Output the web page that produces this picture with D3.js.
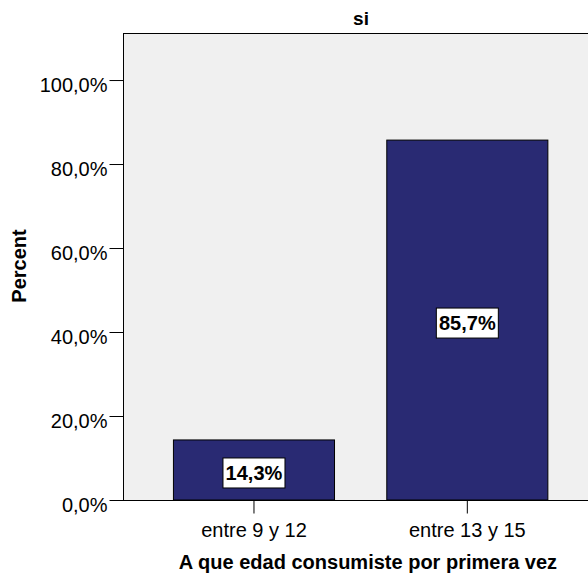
<!DOCTYPE html>
<html lang="es">
<head>
<meta charset="UTF-8">
<title>si</title>
<script src="https://d3js.org/d3.v7.min.js"></script>
<style>
  body { margin: 0; background: #fff; }
  svg text { font-family: "Liberation Sans", Arial, sans-serif; }
</style>
</head>
<body>
<div id="chart"></div>
<script>
// datos
const categorias = ["entre 9 y 12", "entre 13 y 15"];
const porcentajes = [14.3, 85.7];
const ticksY = [0, 20, 40, 60, 80, 100];

const width = 588, height = 575;
const mLeft = 124, mTop = 33, mRight = 588, mBottom = 500;

const svg = d3.select("#chart").append("svg")
    .attr("width", width)
    .attr("height", height);

svg.append("rect").attr("width", width).attr("height", height).attr("fill", "#fff");

// fondo gris del area del grafico
svg.append("rect")
    .attr("x", mLeft).attr("y", mTop)
    .attr("width", mRight - mLeft + 2).attr("height", mBottom - mTop)
    .attr("fill", "#f0f0f0");

const y = d3.scaleLinear().domain([0, 111.2]).range([mBottom, mTop]);
const x = d3.scaleBand().domain(categorias)
    .range([147.3, 574])
    .paddingInner(0.245)
    .paddingOuter(0.1225);

const fmt = v => d3.format(".1f")(v).replace(".", ",") + "%";

// barras
svg.selectAll("rect.bar")
    .data(porcentajes)
    .enter().append("rect")
    .attr("class", "bar")
    .attr("x", (d, i) => x(categorias[i]))
    .attr("y", d => y(d))
    .attr("width", x.bandwidth())
    .attr("height", d => mBottom - y(d))
    .attr("fill", "#292a73")
    .attr("stroke", "#000")
    .attr("stroke-width", 1);

// etiquetas de las barras
const etiquetas = svg.selectAll("g.lab")
    .data(porcentajes)
    .enter().append("g")
    .attr("class", "lab")
    .attr("transform", (d, i) => `translate(${x(categorias[i]) + x.bandwidth() / 2},${(y(d) + mBottom) / 2 + 3})`);

etiquetas.append("rect")
    .attr("x", -31).attr("y", -15)
    .attr("width", 62).attr("height", 30)
    .attr("fill", "#fff")
    .attr("stroke", "#000")
    .attr("stroke-width", 1);

etiquetas.append("text")
    .attr("text-anchor", "middle")
    .attr("dy", "0.36em")
    .style("font-size", "20px")
    .style("font-weight", "bold")
    .text(d => fmt(d));

// borde superior
svg.append("line")
    .attr("x1", mLeft).attr("x2", mRight)
    .attr("y1", mTop + 0.5).attr("y2", mTop + 0.5)
    .attr("stroke", "#000");

// eje Y
const ejeY = svg.append("g")
    .attr("transform", `translate(${mLeft - 0.5},0)`)
    .call(d3.axisLeft(y).tickValues(ticksY).tickSize(14).tickPadding(2).tickFormat(fmt));
ejeY.select(".domain").attr("d", `M0,${mTop}V${mBottom}`).attr("stroke", "#000");
ejeY.selectAll(".tick line").attr("stroke", "#000");
ejeY.selectAll(".tick text")
    .attr("dy", "0.58em")
    .attr("fill", "#000")
    .style("font-size", "20px")
    .style("font-family", "'Liberation Sans', Arial, sans-serif");

// eje X
const ejeX = svg.append("g")
    .attr("transform", `translate(0,${mBottom + 0.5})`)
    .call(d3.axisBottom(x).tickSize(13).tickPadding(0));
ejeX.select(".domain").attr("d", `M${mLeft - 1},0H${mRight}`).attr("stroke", "#000");
ejeX.selectAll(".tick line").attr("stroke", "#000");
ejeX.selectAll(".tick text")
    .attr("y", 36).attr("dy", 0)
    .attr("fill", "#000")
    .style("font-size", "20px")
    .style("font-family", "'Liberation Sans', Arial, sans-serif");

// titulos
svg.append("text")
    .attr("x", 361).attr("y", 25)
    .attr("text-anchor", "middle")
    .style("font-size", "19px")
    .style("font-weight", "bold")
    .text("si");

svg.append("text")
    .attr("x", 368).attr("y", 569)
    .attr("text-anchor", "middle")
    .style("font-size", "20px")
    .style("font-weight", "bold")
    .text("A que edad consumiste por primera vez");

svg.append("text")
    .attr("transform", "translate(26,266) rotate(-90)")
    .attr("text-anchor", "middle")
    .style("font-size", "20px")
    .style("font-weight", "bold")
    .text("Percent");
</script>
</body>
</html>
